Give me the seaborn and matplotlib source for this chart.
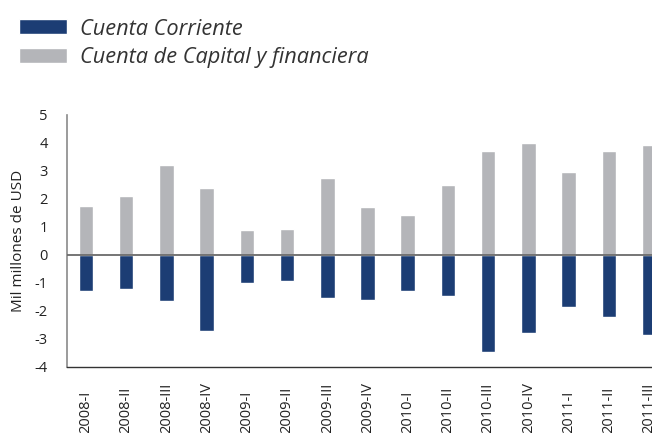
import matplotlib
matplotlib.use("Agg")
import matplotlib.pyplot as plt
import seaborn as sns
import pandas as pd
from matplotlib.patches import Patch

categories = ["2008-I", "2008-II", "2008-III", "2008-IV", "2009-I", "2009-II", "2009-III",
              "2009-IV", "2010-I", "2010-II", "2010-III", "2010-IV", "2011-I", "2011-II", "2011-III"]
cuenta_capital = [1.75, 2.10, 3.21, 2.39, 0.89, 0.92, 2.75, 1.71, 1.42, 2.50, 3.72, 4.00, 2.97, 3.72, 3.93]
cuenta_corriente = [-1.27, -1.23, -1.66, -2.73, -1.01, -0.94, -1.52, -1.62, -1.30, -1.48, -3.45, -2.80, -1.84, -2.20, -2.84]
yticks = [5, 4, 3, 2, 1, 0, -1, -2, -3, -4]

navy = "#1C3D74"
grey = "#B4B5B9"

sns.set_theme(style="white")
plt.rcParams["font.family"] = ["Open Sans", "DejaVu Sans"]

df = pd.DataFrame({"cat": categories, "cap": cuenta_capital, "cor": cuenta_corriente})

fig = plt.figure(figsize=(6.52, 4.33), dpi=100)
ax = fig.add_axes([67 / 652, 66 / 433, 601 / 652, 252 / 433])

sns.barplot(data=df, x="cat", y="cap", color=grey, width=0.36, saturation=1, ax=ax)
sns.barplot(data=df, x="cat", y="cor", color=navy, width=0.36, saturation=1, ax=ax)

ax.axhline(0, color="#6a6a6a", lw=1.3, zorder=5)
ax.set_xlim(-0.47, 14.47)
ax.set_ylim(-4, 5)
ax.set_yticks(yticks)
ax.set_yticklabels([str(v) for v in yticks], fontsize=10.5, color="#222222")
ax.tick_params(axis="y", length=0, pad=14)
ax.set_xlabel("")
ax.set_ylabel("Mil millones de USD", fontsize=11, color="#222222", labelpad=6)
ax.set_xticks(range(len(categories)))
ax.set_xticklabels(categories, rotation=90, fontsize=10.5, color="#222222", va="bottom")
ax.tick_params(axis="x", length=0, pad=47.5)

for s in ["top", "right"]:
    ax.spines[s].set_visible(False)
ax.spines["left"].set_color("#8a8a8a")
ax.spines["left"].set_linewidth(1.2)
ax.spines["bottom"].set_color("#333333")
ax.spines["bottom"].set_linewidth(1.0)

handles = [Patch(facecolor=navy, label="Cuenta Corriente"),
           Patch(facecolor=grey, label="Cuenta de Capital y financiera")]
leg = fig.legend(handles=handles, loc="upper left", bbox_to_anchor=(0.0, 1.0),
                 frameon=False, prop={"style": "italic", "size": 15.7},
                 handlelength=2.2, handleheight=0.68, handletextpad=0.62,
                 labelspacing=0.34, borderaxespad=0.45)
for t in leg.get_texts():
    t.set_color("#333333")

fig.savefig("out.png", dpi=100)
